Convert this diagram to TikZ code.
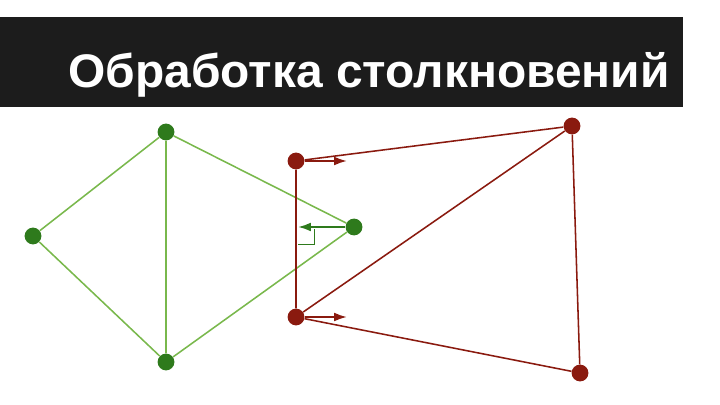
\documentclass[tikz,border=0pt]{standalone}
\usepackage{fontspec}
\setmainfont{Liberation Sans}
\newfontfamily\titlefont[FakeStretch=1.017]{Liberation Sans}
\usetikzlibrary{arrows.meta}
\definecolor{ghdark}{HTML}{2E7A1C}
\definecolor{ghline}{HTML}{79B84C}
\definecolor{rdark}{HTML}{8A1A0F}
\definecolor{banner}{HTML}{1C1C1C}
\begin{document}
\begin{tikzpicture}[x=0.025cm, y=-0.025cm,
		gdot/.style={circle, fill=ghdark, inner sep=0pt, minimum size=0.42cm},
		rdot/.style={circle, fill=rdark, inner sep=0pt, minimum size=0.42cm},
		gedge/.style={ghline, line width=1.1pt},
		redge/.style={rdark, line width=1.1pt},
		push/.style={line width=1.4pt, -{Latex[length=3.2mm, width=2.2mm]}}]
				\useasboundingbox (0,0) rectangle (720,405);
				\fill[banner] (0,17) rectangle (683,107);
				\node[anchor=base west, inner sep=0pt, text=white, font=\titlefont\fontsize{33.5}{36}\selectfont\bfseries] (title) at (68,88) {Обработка столкновений};
				% green body
				\node[gdot] (gtop) at (166,132) {};
				\node[gdot] (gleft) at (33,236) {};
				\node[gdot] (gbot) at (166,362) {};
				\node[gdot] (gright) at (354,227) {};
				\draw[gedge] (gtop) -- (gleft) -- (gbot) -- (gtop);
				\draw[gedge] (gtop) -- (gright) -- (gbot);
				% red body
				\node[rdot] (rtl) at (296,161) {};
				\node[rdot] (rbl) at (296,317) {};
				\node[rdot] (rtr) at (572,126) {};
				\node[rdot] (rbr) at (580,373) {};
				\draw[redge] (rtl) -- (rtr) -- (rbr) -- (rbl) -- (rtl);
				\draw[redge] (rbl) -- (rtr);
				% contact
				\coordinate (hit) at (298,227);
				\coordinate (pa) at (347,161);
				\coordinate (pb) at (347,317);
				\draw[push, ghdark] (gright) -- (hit);
				\draw[ghdark, line width=0.5pt] (298,244) -- (314,244) -- (314,229);
				\draw[push, rdark] (rtl) -- (pa);
				\draw[push, rdark] (rbl) -- (pb);
			\end{tikzpicture}
\end{document}
